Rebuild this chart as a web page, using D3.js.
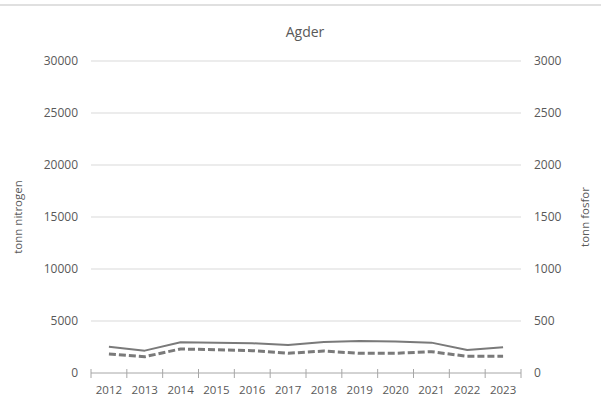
<!DOCTYPE html>
<html>
<head>
<meta charset="utf-8">
<script src="https://cdn.jsdelivr.net/npm/d3@7"></script>
<style>
  body { margin: 0; background: #fff; }
  text { font-family: "Open Sans", sans-serif; fill: #595959; }
</style>
</head>
<body>
<script>
// data
var years = ["2012","2013","2014","2015","2016","2017","2018","2019","2020","2021","2022","2023"];
var nitrogen = [2530, 2150, 2950, 2920, 2860, 2700, 2980, 3070, 3030, 2920, 2210, 2470];
var fosfor = [183, 157, 231, 224, 215, 190, 211, 189, 190, 205, 160, 160];
var leftTicks = [0, 5000, 10000, 15000, 20000, 25000, 30000];
var rightTicks = [0, 500, 1000, 1500, 2000, 2500, 3000];

var W = 601, H = 406;
var margin = {top: 61, right: 80, bottom: 33, left: 91};
var width = W - margin.left - margin.right,
    height = H - margin.top - margin.bottom;

var svg = d3.select("body").append("svg")
    .attr("width", W)
    .attr("height", H);

// thin border line on top
svg.append("rect")
    .attr("x", 0).attr("y", 4)
    .attr("width", W).attr("height", 2)
    .attr("fill", "#e0e0e0");

var g = svg.append("g")
    .attr("transform", "translate(" + margin.left + "," + margin.top + ")");

var x = d3.scaleBand().domain(years).range([0, width]);
var y = d3.scaleLinear().domain([0, 30000]).range([height, 0]);
var y2 = d3.scaleLinear().domain([0, 3000]).range([height, 0]);

// gridlines
g.selectAll(".grid")
    .data(leftTicks.filter(function(d) { return d > 0; }))
    .enter().append("line")
    .attr("x1", 0).attr("x2", width)
    .attr("y1", function(d) { return y(d); })
    .attr("y2", function(d) { return y(d); })
    .attr("stroke", "#d9d9d9")
    .attr("stroke-width", 1);

// left labels
g.selectAll(".ly")
    .data(leftTicks)
    .enter().append("text")
    .attr("x", -13)
    .attr("y", function(d) { return y(d); })
    .attr("dy", "0.35em")
    .attr("text-anchor", "end")
    .style("font-size", "12px")
    .text(function(d) { return d; });

// right labels
g.selectAll(".ry")
    .data(rightTicks)
    .enter().append("text")
    .attr("x", width + 13)
    .attr("y", function(d) { return y2(d); })
    .attr("dy", "0.35em")
    .attr("text-anchor", "start")
    .style("font-size", "12px")
    .text(function(d) { return d; });

// x axis line + ticks
g.append("line")
    .attr("x1", 0).attr("x2", width)
    .attr("y1", height).attr("y2", height)
    .attr("stroke", "#a6a6a6");

var tickPos = years.map(function(d) { return x(d); }).concat([width]);
g.selectAll(".xt")
    .data(tickPos)
    .enter().append("line")
    .attr("x1", function(d) { return d; })
    .attr("x2", function(d) { return d; })
    .attr("y1", height - 4).attr("y2", height + 5)
    .attr("stroke", "#a6a6a6");

g.selectAll(".xl")
    .data(years)
    .enter().append("text")
    .attr("x", function(d) { return x(d) + x.bandwidth() / 2; })
    .attr("y", height + 21)
    .attr("text-anchor", "middle")
    .style("font-size", "11.5px")
    .text(function(d) { return d; });

// lines
var lineN = d3.line()
    .x(function(d, i) { return x(years[i]) + x.bandwidth() / 2; })
    .y(function(d) { return y(d); });
var lineP = d3.line()
    .x(function(d, i) { return x(years[i]) + x.bandwidth() / 2; })
    .y(function(d) { return y2(d); });

g.append("path")
    .datum(nitrogen)
    .attr("fill", "none")
    .attr("stroke", "#7a7a7a")
    .attr("stroke-width", 2)
    .attr("stroke-linejoin", "round")
    .attr("d", lineN);

g.append("path")
    .datum(fosfor)
    .attr("fill", "none")
    .attr("stroke", "#7a7a7a")
    .attr("stroke-width", 3)
    .attr("stroke-dasharray", "7,3")
    .attr("stroke-linejoin", "round")
    .attr("d", lineP);

// title
svg.append("text")
    .attr("x", 305)
    .attr("y", 37)
    .attr("text-anchor", "middle")
    .style("font-size", "14px")
    .text("Agder");

// axis titles
svg.append("text")
    .attr("transform", "translate(22," + (margin.top + height / 2) + ") rotate(-90)")
    .attr("text-anchor", "middle")
    .style("font-size", "11.5px")
    .text("tonn nitrogen");

svg.append("text")
    .attr("transform", "translate(589," + (margin.top + height / 2) + ") rotate(-90)")
    .attr("text-anchor", "middle")
    .style("font-size", "11.5px")
    .text("tonn fosfor");
</script>
</body>
</html>
